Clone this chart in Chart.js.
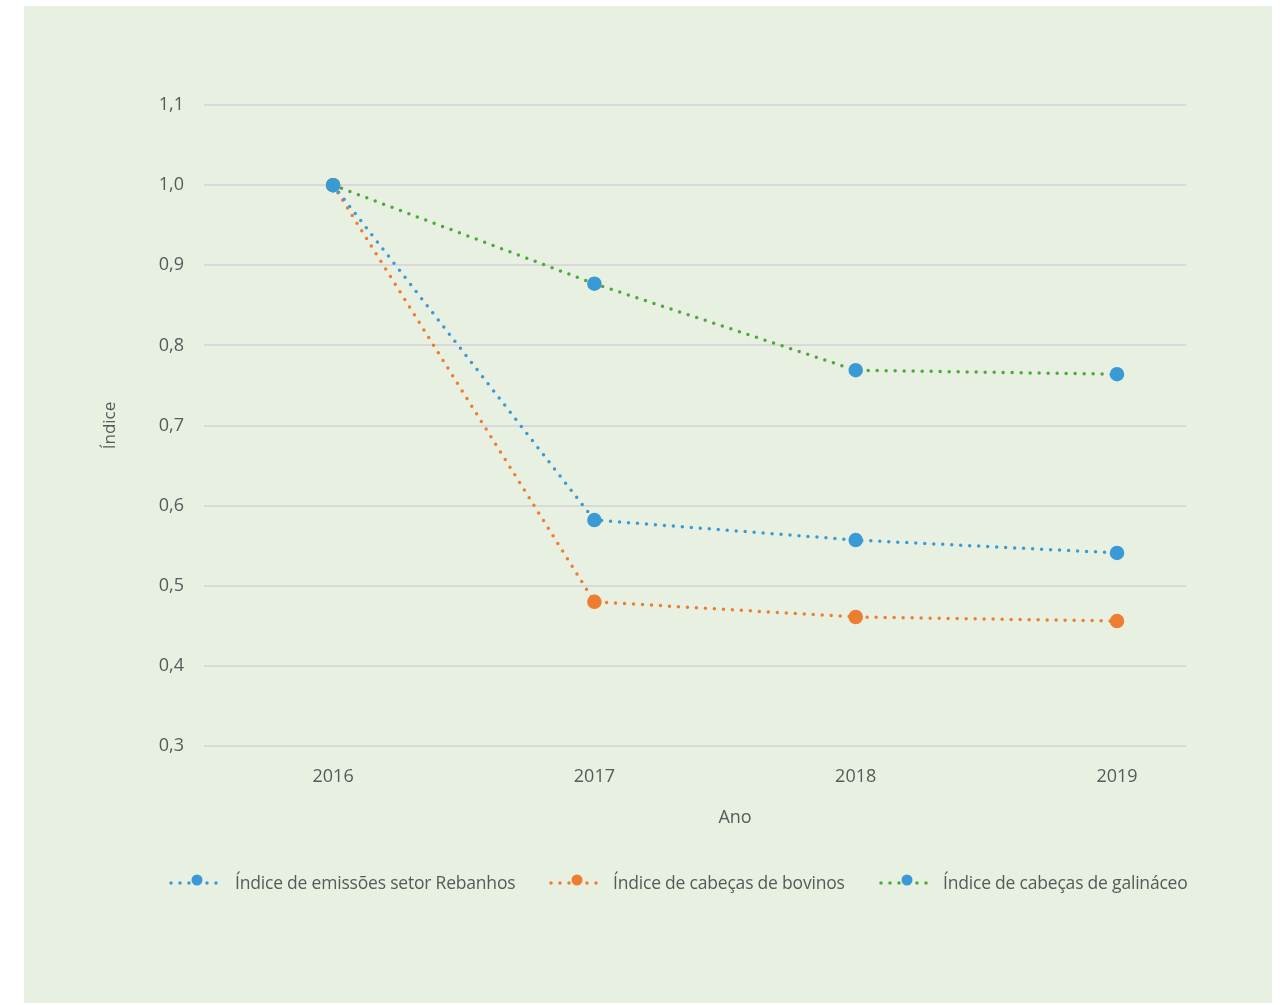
<!DOCTYPE html>
<html>
<head>
<meta charset="utf-8">
<script src="https://cdn.jsdelivr.net/npm/chart.js@4"></script>
<style>
  body { margin: 0; background: #fff; }
  #panel { position: absolute; left: 24px; top: 6px; width: 1248px; height: 997px; background: #e8f0e1; }
  #wrap { position: absolute; left: 0; top: 0; width: 1288px; height: 1005px; }
  #legend { position: absolute; left: 168px; top: 869px; width: 1019px; height: 28px; overflow: hidden; white-space: nowrap;
            font-family: "Open Sans", sans-serif; font-size: 17.5px; color: #595959; }
  .item { position: absolute; top: 0; height: 28px; }
  .item svg { position: absolute; left: 0; top: 3px; }
  .item span { position: absolute; top: 1px; letter-spacing: -0.2px; }
</style>
</head>
<body>
<div id="panel"></div>
<div id="wrap"><canvas id="chart" width="1288" height="1005"></canvas></div>
<div id="legend"></div>
<script>
// dados
years = [2016, 2017, 2018, 2019]
emissoes = [1.0, 0.582, 0.557, 0.541]
bovinos = [1.0, 0.48, 0.461, 0.456]
galinaceos = [1.0, 0.877, 0.769, 0.764]
yTicks = [0.3, 0.4, 0.5, 0.6, 0.7, 0.8, 0.9, 1.0, 1.1]
seriesNames = ['Índice de emissões setor Rebanhos', 'Índice de cabeças de bovinos', 'Índice de cabeças de galináceos']

blue = '#3a9ad6'
orange = '#ed7d31'
green = '#4ea83e'
textColor = '#595959'

function pts(arr) {
  return arr.map(function (v, i) { return { x: years[i], y: v } })
}

function ds(label, values, lineColor, markColor) {
  return {
    label: label,
    data: pts(values),
    borderColor: lineColor,
    borderWidth: 3.5,
    borderDash: [0, 9],
    borderCapStyle: 'round',
    pointRadius: 5.5,
    pointHoverRadius: 5.5,
    pointBackgroundColor: markColor,
    pointBorderColor: markColor,
    tension: 0
  }
}

// titulo do eixo x (Ano) um pouco deslocado como no original
anoTitle = {
  id: 'anoTitle',
  afterDraw: function (c) {
    ctx = c.ctx
    ctx.save()
    ctx.fillStyle = textColor
    ctx.font = '18px "Open Sans"'
    ctx.textAlign = 'center'
    ctx.textBaseline = 'middle'
    ctx.fillText('Ano', 735, 818)
    ctx.restore()
  }
}

canvas = document.querySelector('#chart')
const chart = new Chart(canvas, {
  type: 'line',
  data: {
    datasets: [
      ds(seriesNames[0], emissoes, blue, blue),
      ds(seriesNames[1], bovinos, orange, orange),
      ds(seriesNames[2], galinaceos, green, blue)
    ]
  },
  options: {
    responsive: false,
    animation: false,
    layout: { padding: { left: 100, right: 102, top: 105, bottom: 167 } },
    plugins: { legend: { display: false }, tooltip: { enabled: false } },
    scales: {
      x: {
        type: 'linear',
        min: 2015.506,
        max: 2019.264,
        afterBuildTicks: function (scale) { scale.ticks = years.map(function (v) { return { value: v } }) },
        afterFit: function (scale) { scale.height = 92 },
        grid: { display: false, drawTicks: false },
        border: { display: false },
        ticks: { color: textColor, font: { family: 'Open Sans', size: 18 }, padding: 20, callback: function (v) { return String(v) } }
      },
      y: {
        min: 0.3,
        max: 1.1,
        afterBuildTicks: function (scale) { scale.ticks = yTicks.map(function (v) { return { value: v } }) },
        afterFit: function (scale) { scale.width = 104 },
        grid: { color: '#d9d9d9', lineWidth: 2, drawTicks: false },
        border: { display: false },
        ticks: { color: textColor, font: { family: 'Open Sans', size: 18 }, padding: 20,
                 callback: function (v) { return v.toFixed(1).replace('.', ',') } },
        title: { display: true, text: 'Índice', color: textColor, font: { family: 'Open Sans', size: 17 }, padding: 0 }
      }
    }
  },
  plugins: [anoTitle]
})

// legenda
legendItems = [
  { x: 0, color: blue, mark: blue, textX: 67 },
  { x: 380, color: orange, mark: orange, textX: 445 },
  { x: 710, color: green, mark: blue, textX: 775 }
]
legend = document.querySelector('#legend')
legendItems.forEach(function (it, i) {
  d = document.createElement('div')
  d.className = 'item'
  d.style.left = it.x + 'px'
  d.innerHTML = '<svg width="60" height="20"><line x1="3" y1="11" x2="57" y2="11" stroke="' + it.color +
    '" stroke-width="3.5" stroke-dasharray="0 9" stroke-linecap="round"/><circle cx="29" cy="8" r="5.5" fill="' + it.mark +
    '"/></svg><span style="left:' + (it.textX - it.x) + 'px">' + seriesNames[i] + '</span>'
  legend.appendChild(d)
})
</script>
</body>
</html>
